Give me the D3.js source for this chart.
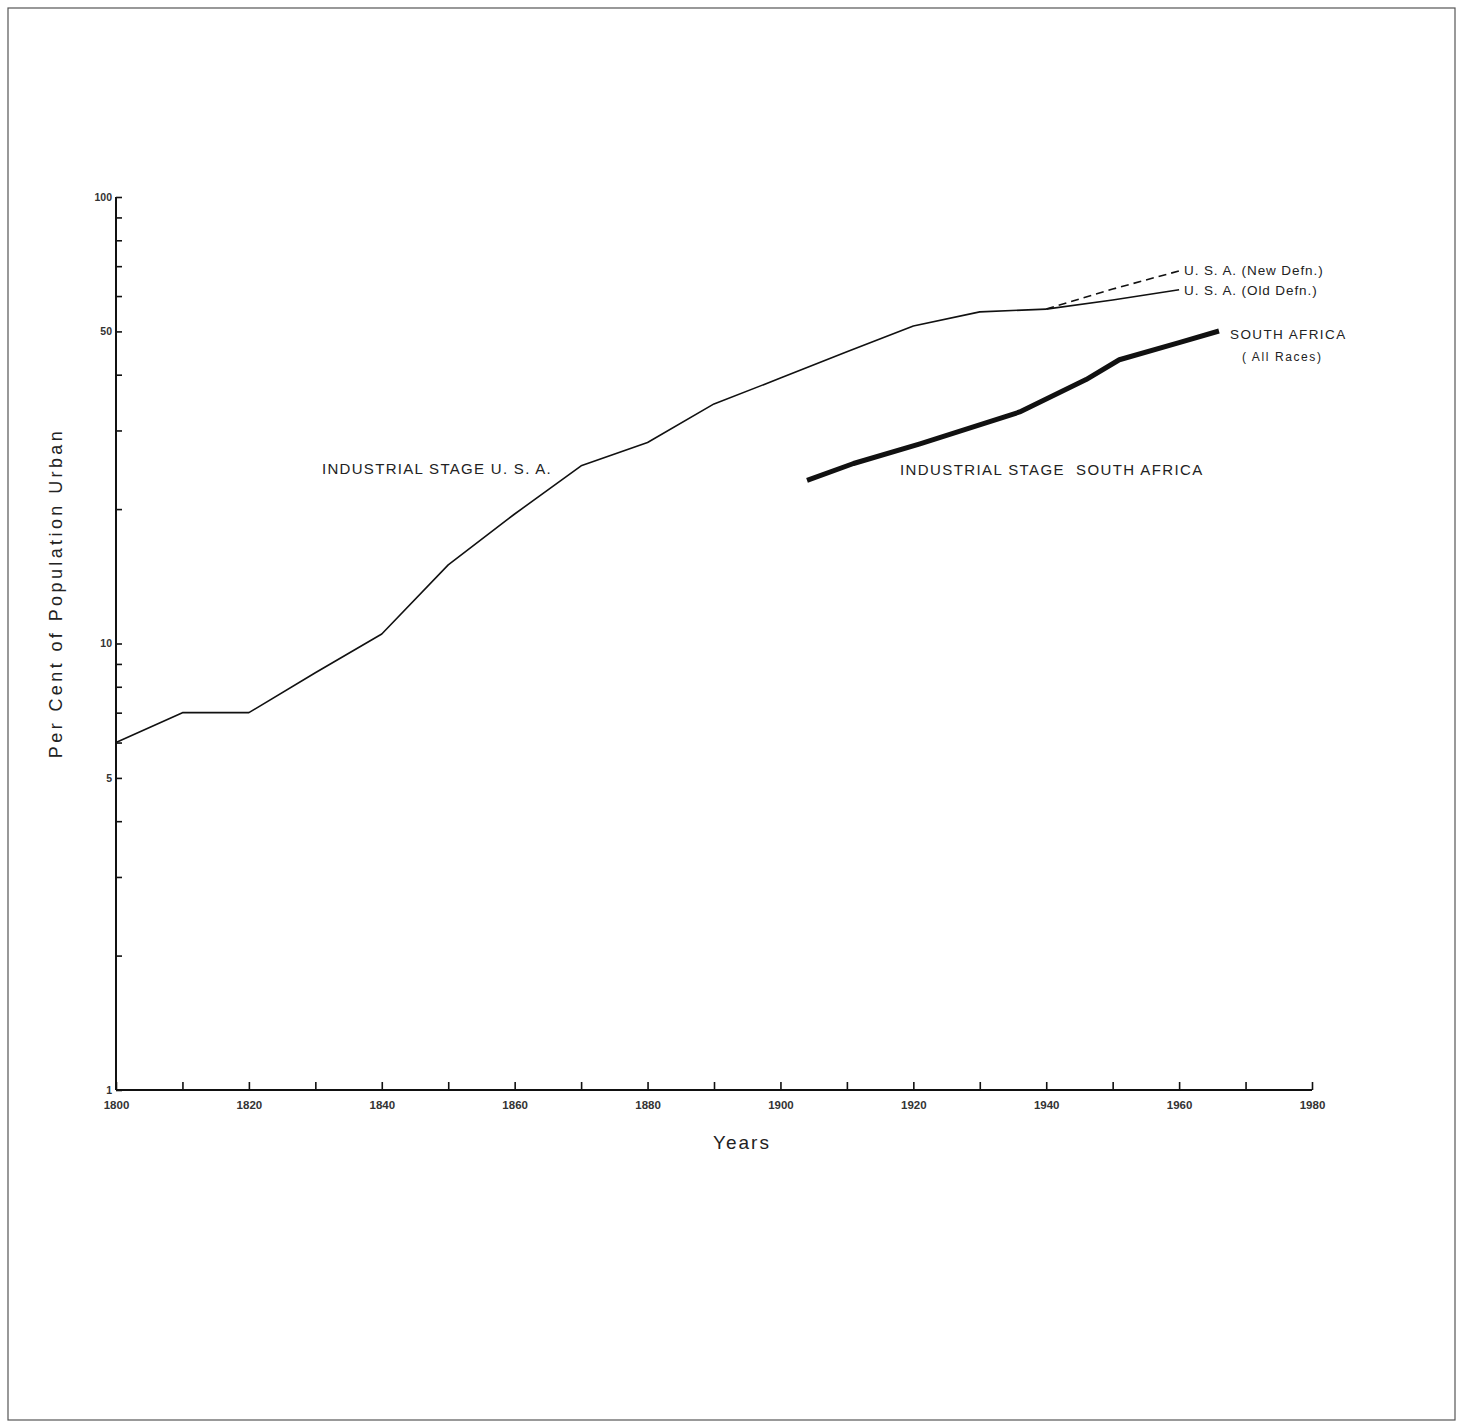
<!DOCTYPE html>
<html>
<head>
<meta charset="utf-8">
<script src="https://cdn.jsdelivr.net/npm/d3@7"></script>
<style>
  body { margin: 0; background: #fff; }
  svg { display: block; }
  .axis path, .axis line { stroke: #111; }
  .ticklbl text { font-family: "Liberation Sans Narrow", "Liberation Sans", Arial, sans-serif; font-weight: bold; fill: #333; }
</style>
</head>
<body>
<svg id="chart" width="1462" height="1424"></svg>
<script>
// data (per cent urban, log scale)
const usYears = [1800, 1810, 1820, 1830, 1840, 1850, 1860, 1870, 1880, 1890, 1900, 1910, 1920, 1930, 1940];
const usValues = [6.0, 7.0, 7.0, 8.6, 10.5, 15.0, 19.5, 25.0, 28.2, 34.4, 39.3, 45.0, 51.4, 55.3, 56.1];
const usOldYears = [1940, 1950, 1960];
const usOldValues = [56.1, 58.8, 62.0];
const usNewYears = [1940, 1950, 1960];
const usNewValues = [56.1, 62.2, 68.3];
const saYears = [1904, 1911, 1921, 1936, 1946, 1951, 1960, 1966];
const saValues = [23.2, 25.3, 28.0, 33.0, 39.0, 43.2, 47.2, 50.1];

const yTicks = [1, 2, 3, 4, 5, 6, 7, 8, 9, 10, 20, 30, 40, 50, 60, 70, 80, 90, 100];
const yLabels = [1, 5, 10, 50, 100];
const xTicks = d3.range(1800, 1981, 10);
const xLabels = d3.range(1800, 1981, 20);

const svg = d3.select("#chart");

// page frame
svg.append("rect")
    .attr("x", 8).attr("y", 8)
    .attr("width", 1447).attr("height", 1412)
    .attr("fill", "none")
    .attr("stroke", "#555")
    .attr("stroke-width", 1.2);

const plotLeft = 116, plotRight = 1312, plotTop = 197, plotBottom = 1090;

const x = d3.scaleLinear().domain([1800, 1980]).range([plotLeft, plotRight]);
const y = d3.scaleLog().domain([1, 100]).range([plotBottom, plotTop]);

// y axis, ticks pointing inward
const yAxis = d3.axisLeft(y)
    .tickValues(yTicks)
    .tickSize(-6)
    .tickPadding(4)
    .tickFormat(d => yLabels.includes(d) ? d : "");

svg.append("g")
    .attr("class", "axis ticklbl")
    .attr("transform", "translate(" + plotLeft + ",0)")
    .call(yAxis)
    .call(g => g.select(".domain").attr("stroke-width", 2).attr("d", "M0," + plotTop + "V" + plotBottom))
    .call(g => g.selectAll(".tick line").attr("stroke-width", 1.6))
    .call(g => g.selectAll("text").attr("font-size", 10.5));

// x axis, ticks pointing up
const xAxis = d3.axisBottom(x)
    .tickValues(xTicks)
    .tickSize(-8)
    .tickPadding(11)
    .tickFormat(d => xLabels.includes(d) ? d : "");

svg.append("g")
    .attr("class", "axis ticklbl")
    .attr("transform", "translate(0," + plotBottom + ")")
    .call(xAxis)
    .call(g => g.select(".domain").attr("stroke-width", 2).attr("d", "M" + plotLeft + ",0H" + plotRight))
    .call(g => g.selectAll(".tick line").attr("stroke-width", 1.6))
    .call(g => g.selectAll("text").attr("font-size", 11.5));

// axis titles
svg.append("text")
    .attr("transform", "translate(62,593) rotate(-90)")
    .attr("text-anchor", "middle")
    .attr("font-family", "Liberation Sans, Arial, sans-serif")
    .attr("font-size", 18)
    .attr("letter-spacing", 3.4)
    .attr("fill", "#222")
    .text("Per Cent of Population Urban");

svg.append("text")
    .attr("x", 742).attr("y", 1149)
    .attr("text-anchor", "middle")
    .attr("font-family", "Liberation Sans, Arial, sans-serif")
    .attr("font-size", 19)
    .attr("letter-spacing", 2)
    .attr("fill", "#222")
    .text("Years");

// lines
const line = d3.line()
    .x(d => x(d[0]))
    .y(d => y(d[1]));

const series = [
    { years: usYears, values: usValues, width: 1.6, dash: null },
    { years: usOldYears, values: usOldValues, width: 1.6, dash: null },
    { years: usNewYears, values: usNewValues, width: 1.6, dash: "8,5" },
    { years: saYears, values: saValues, width: 5, dash: null }
];

series.forEach(s => {
    svg.append("path")
        .datum(d3.zip(s.years, s.values))
        .attr("fill", "none")
        .attr("stroke", "#111")
        .attr("stroke-width", s.width)
        .attr("stroke-dasharray", s.dash)
        .attr("stroke-linejoin", "round")
        .attr("d", line);
});

// annotations
const labels = [
    { t: "INDUSTRIAL STAGE U. S. A.", x: 322, y: 474, size: 15, ls: 1.3 },
    { t: "INDUSTRIAL STAGE  SOUTH AFRICA", x: 900, y: 475, size: 15, ls: 1.4 },
    { t: "U. S. A. (New Defn.)", x: 1184, y: 275, size: 13.5, ls: 0.9 },
    { t: "U. S. A. (Old Defn.)", x: 1184, y: 295, size: 13.5, ls: 0.9 },
    { t: "SOUTH AFRICA", x: 1230, y: 339, size: 13.5, ls: 1.4 },
    { t: "( All Races)", x: 1242, y: 361, size: 12, ls: 1.6 }
];

svg.selectAll(".note")
    .data(labels)
    .enter()
    .append("text")
    .attr("class", "note")
    .attr("x", d => d.x)
    .attr("y", d => d.y)
    .attr("font-family", "Liberation Sans, Arial, sans-serif")
    .attr("font-size", d => d.size)
    .attr("letter-spacing", d => d.ls)
    .style("white-space", "pre")
    .attr("fill", "#222")
    .text(d => d.t);
</script>
</body>
</html>
